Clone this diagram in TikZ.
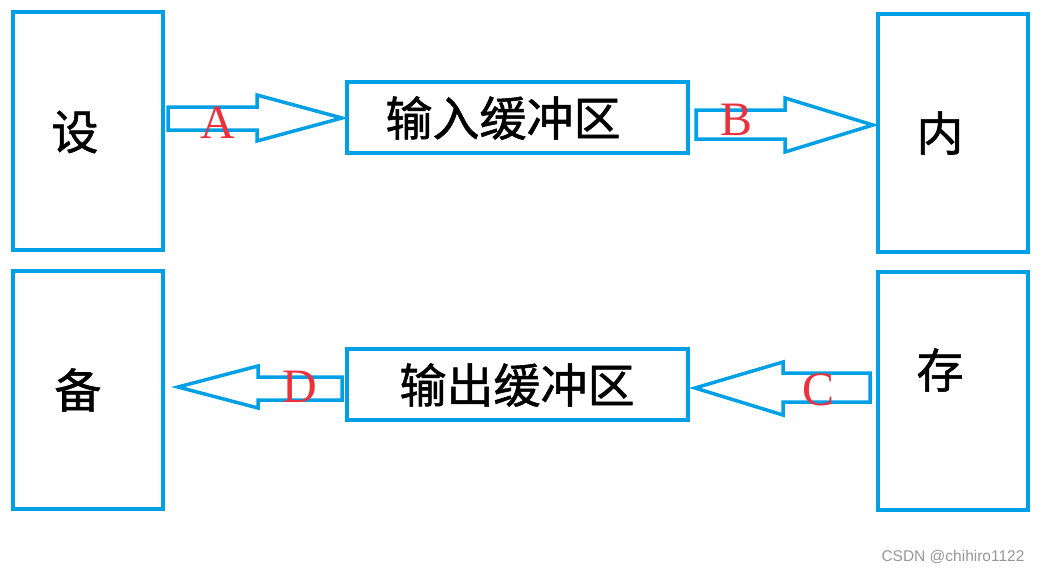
\documentclass[tikz,border=0pt]{standalone}
\usepackage{fontspec}
\usepackage{tikz}
\usetikzlibrary{positioning,calc}
\newfontfamily\cjk[FakeBold=1.2]{Noto Sans CJK SC}
\newfontfamily\letrafont{Liberation Serif}
\newfontfamily\wmfont{Liberation Sans}
\definecolor{azulbuf}{RGB}{0, 160, 230}
\definecolor{acento}{RGB}{235, 50, 60}
\definecolor{gris}{RGB}{150, 150, 150}

\begin{document}
\begin{tikzpicture}[x=1pt,y=-1pt]
        \useasboundingbox (0,0) rectangle (1042,574);
        \tikzset{caja/.style={draw=azulbuf,line width=4,inner sep=0,minimum width=150,minimum height=238},
          buf/.style={draw=azulbuf,line width=4,inner sep=0,minimum width=341,minimum height=71},
          hanzi/.style={font=\cjk\fontsize{47}{50}\selectfont},
          flecha/.style={draw=azulbuf,line width=3.5,line join=miter,fill=white},
          letra/.style={acento,font=\letrafont\fontsize{48}{52}\selectfont}}
        % cajas de dispositivo y memoria
        \node[caja] (dev1) at (88,131) {};
        \node[caja] (dev2) at (88,390) {};
        \node[caja] (mem1) at (952.5,132.5) {};
        \node[caja] (mem2) at (952.5,390.5) {};
        \node[buf] (bufin) at (517.5,117.5) {};
        \node[buf] (bufout) at (517.5,384) {};
        \node[hanzi] (tdev1) at (75,132) {设};
        \node[hanzi] (tdev2) at (78,390) {备};
        \node[hanzi] (tmem1) at (940,133) {内};
        \node[hanzi] (tmem2) at (940,370) {存};
        \node[hanzi] (tbufin) at (503,118) {输入缓冲区};
        \node[hanzi] (tbufout) at (517,385) {输出缓冲区};
        % flechas de bloque
        \draw[flecha] (168,107) -- (257,107) -- (257,95) -- (342,118) -- (257,141) -- (257,130) -- (168,130) -- cycle;
        \draw[flecha] (696,110) -- (785,110) -- (785,98) -- (873,125) -- (785,152) -- (785,139) -- (696,139) -- cycle;
        \draw[flecha] (870,373) -- (783,373) -- (783,362) -- (695,388) -- (783,415) -- (783,402) -- (870,402) -- cycle;
        \draw[flecha] (342,377) -- (258,377) -- (258,366) -- (178,387) -- (258,408) -- (258,400) -- (342,400) -- cycle;
        \node[letra] (la) at (218,123) {A};
        \node[letra] (lb) at (737,120) {B};
        \node[letra] (lc) at (818,390) {C};
        \node[letra] (ld) at (300,387) {D};
        \node[gris,font=\wmfont\fontsize{15.5}{17}\selectfont,anchor=east] (marca) at (1028,557) {CSDN @chihiro1122};
      \end{tikzpicture}
\end{document}
